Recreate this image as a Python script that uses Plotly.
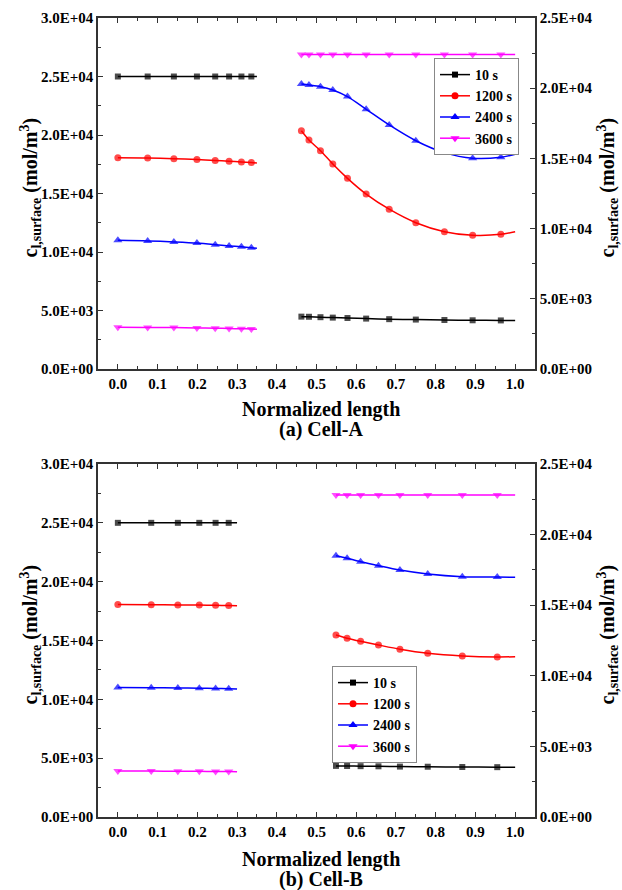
import plotly.graph_objects as go

# ---------------- data ----------------
series_names = ["10 s", "1200 s", "2400 s", "3600 s"]
series_colors = ["#000000", "#FF0000", "#0000FF", "#FF00FF"]
series_symbols = ["square", "circle", "triangle-up", "triangle-down"]
series_msize = [6, 7, 8, 8]

# Cell-A (top panel)
xA_left = [0.0, 0.075, 0.141, 0.199, 0.245, 0.280, 0.311, 0.336, 0.35]
A_left = [
    [25000, 25000, 25000, 25000, 25000, 25000, 25000, 25000, 25000],
    [18050, 18030, 17970, 17900, 17830, 17760, 17700, 17640, 17600],
    [11000, 10950, 10860, 10760, 10630, 10520, 10440, 10360, 10320],
    [3560, 3550, 3540, 3510, 3490, 3460, 3440, 3420, 3400],
]
xA_right = [0.462, 0.481, 0.510, 0.541, 0.578, 0.625, 0.683, 0.750, 0.822, 0.893, 0.964, 1.0]
A_right = [
    [3730, 3720, 3690, 3660, 3630, 3590, 3550, 3520, 3490, 3470, 3460, 3460],
    [16970, 16310, 15550, 14600, 13580, 12460, 11380, 10420, 9780, 9520, 9590, 9780],
    [20300, 20230, 20110, 19870, 19400, 18500, 17380, 16260, 15410, 15010, 15080, 15290],
    [22400, 22400, 22400, 22400, 22400, 22400, 22400, 22400, 22400, 22400, 22400, 22400],
]

# Cell-B (bottom panel)
xB_left = [0.0, 0.084, 0.151, 0.205, 0.246, 0.279, 0.30]
B_left = [
    [25000, 25000, 25000, 25000, 25000, 25000, 25000],
    [18050, 18040, 18020, 18010, 17990, 17970, 17960],
    [11000, 10990, 10970, 10950, 10930, 10900, 10880],
    [3900, 3900, 3890, 3880, 3870, 3860, 3850],
]
xB_right = [0.549, 0.577, 0.611, 0.656, 0.710, 0.780, 0.867, 0.955, 1.0]
B_right = [
    [3620, 3610, 3600, 3590, 3570, 3560, 3540, 3530, 3530],
    [12890, 12660, 12440, 12180, 11880, 11590, 11400, 11330, 11350],
    [18500, 18320, 18080, 17800, 17490, 17210, 17020, 16990, 16980],
    [22800, 22800, 22800, 22800, 22800, 22800, 22800, 22800, 22800],
]

left_tickvals = [0, 5000, 10000, 15000, 20000, 25000, 30000]
left_ticktext = ["0.0E+00", "5.0E+03", "1.0E+04", "1.5E+04", "2.0E+04", "2.5E+04", "3.0E+04"]
right_tickvals = [0, 5000, 10000, 15000, 20000, 25000]
right_ticktext = ["0.0E+00", "5.0E+03", "1.0E+04", "1.5E+04", "2.0E+04", "2.5E+04"]

ytitle = "c<sub>l,surface</sub>&nbsp;(mol/m<sup>3</sup>)"
xtitle = "Normalized length"
captions = ["(a) Cell-A", "(b) Cell-B"]

# ---------------- figure ----------------
W, H = 622, 890
FONT = "Liberation Serif"
AXC = "#333333"


def px(p):
    return p / W


def py(p):
    return 1 - p / H


fig = go.Figure()


def add_panel(xl, yl_list, xr, yr_list, xa, ya_left, ya_right, legend_name):
    for i in range(4):
        c = series_colors[i]
        sym = series_symbols[i]
        ms = series_msize[i]
        for xs, ys, yax in ((xl, yl_list[i], ya_left), (xr, yr_list[i], ya_right)):
            sizes = [ms] * (len(xs) - 1) + [0]
            fig.add_trace(go.Scatter(
                x=xs, y=ys, mode="lines+markers", xaxis=xa, yaxis=yax,
                line=dict(color=c, width=1.5, shape="spline", smoothing=0.8),
                marker=dict(symbol=sym, size=sizes, color=c, line=dict(width=0)),
                showlegend=False, legendgroup=legend_name + series_names[i],
                hoverinfo="skip",
            ))
        fig.add_trace(go.Scatter(
            x=[None], y=[None], mode="lines+markers", xaxis=xa, yaxis=ya_left,
            name=series_names[i], legend=legend_name,
            legendgroup=legend_name + series_names[i],
            line=dict(color=c, width=1.5),
            marker=dict(symbol=sym, size=ms, color=c, line=dict(width=0)),
        ))


add_panel(xA_left, A_left, xA_right, A_right, "x", "y", "y2", "legend")
add_panel(xB_left, B_left, xB_right, B_right, "x2", "y3", "y4", "legend2")

tickfont = dict(family=FONT, size=15, color="#000000", weight="bold")


def xaxis_cfg(anchor):
    return dict(
        domain=[px(98), px(535)], anchor=anchor, range=[-0.05, 1.05],
        tickmode="linear", tick0=0, dtick=0.1, tickformat=".1f",
        ticks="inside", ticklen=5, tickwidth=1.2, tickcolor=AXC,
        showline=True, linecolor=AXC, linewidth=1.5, mirror="ticks",
        showgrid=False, zeroline=False, tickfont=tickfont, automargin=False,
        minor=dict(dtick=0.05, tick0=0, ticks="inside", ticklen=3, tickwidth=1.2, tickcolor=AXC),
    )


def yleft_cfg(dom, anchor):
    return dict(
        domain=dom, anchor=anchor, range=[0, 30000],
        tickmode="array", tickvals=left_tickvals, ticktext=left_ticktext,
        ticks="inside", ticklen=5, tickwidth=1.2, tickcolor=AXC,
        showline=True, linecolor=AXC, linewidth=1.5,
        showgrid=False, zeroline=False, tickfont=tickfont, automargin=False,
        minor=dict(tickmode="array", tickvals=[2500, 7500, 12500, 17500, 22500, 27500],
                   ticks="inside", ticklen=3, tickwidth=1.2, tickcolor=AXC),
    )


def yright_cfg(anchor, overlay):
    return dict(
        anchor=anchor, overlaying=overlay, side="right", range=[0, 25000],
        tickmode="array", tickvals=right_tickvals, ticktext=right_ticktext,
        ticks="inside", ticklen=5, tickwidth=1.2, tickcolor=AXC,
        showline=True, linecolor=AXC, linewidth=1.5,
        showgrid=False, zeroline=False, tickfont=tickfont, automargin=False,
        minor=dict(tickmode="array", tickvals=[2500, 7500, 12500, 17500, 22500],
                   ticks="inside", ticklen=3, tickwidth=1.2, tickcolor=AXC),
    )


legend_common = dict(
    bgcolor="#FFFFFF", bordercolor="#888888", borderwidth=1,
    font=dict(family=FONT, size=14, color="#000000", weight="bold"),
    tracegroupgap=0, itemwidth=30,
)

fig.update_layout(
    template="none",
    width=W, height=H,
    margin=dict(l=0, r=0, t=0, b=0, autoexpand=False),
    paper_bgcolor="#FFFFFF", plot_bgcolor="#FFFFFF",
    font=dict(family=FONT, color="#000000"),
    xaxis=xaxis_cfg("y"),
    yaxis=yleft_cfg([py(369), py(18)], "x"),
    yaxis2=yright_cfg("x", "y"),
    xaxis2=xaxis_cfg("y3"),
    yaxis3=yleft_cfg([py(817), py(464)], "x2"),
    yaxis4=yright_cfg("x2", "y3"),
    legend=dict(x=px(519), y=py(58), xanchor="right", yanchor="top", **legend_common),
    legend2=dict(x=px(332), y=py(666), xanchor="left", yanchor="top", **legend_common),
)

afont = dict(family=FONT, size=20, color="#000000", weight="bold")
annotations = []
for top, bot, cap, xt_y, cap_y in ((18, 369, captions[0], 409, 429), (464, 817, captions[1], 859, 879)):
    mid = (top + bot) / 2
    annotations.append(dict(text=xtitle, x=px(321), y=py(xt_y), xref="paper", yref="paper",
                            xanchor="center", yanchor="middle", showarrow=False, font=afont))
    annotations.append(dict(text=cap, x=px(321), y=py(cap_y), xref="paper", yref="paper",
                            xanchor="center", yanchor="middle", showarrow=False, font=afont))
    annotations.append(dict(text=ytitle, x=px(30), y=py(mid - 6), xref="paper", yref="paper",
                            xanchor="center", yanchor="middle", showarrow=False, font=afont,
                            textangle=-90))
    annotations.append(dict(text=ytitle, x=px(607), y=py(mid - 6), xref="paper", yref="paper",
                            xanchor="center", yanchor="middle", showarrow=False, font=afont,
                            textangle=-90))
fig.update_layout(annotations=annotations)

fig.write_html(
    "out.html",
    config={"displayModeBar": False},
    post_script="document.body.style.margin='0';document.body.style.overflow='hidden';",
)
